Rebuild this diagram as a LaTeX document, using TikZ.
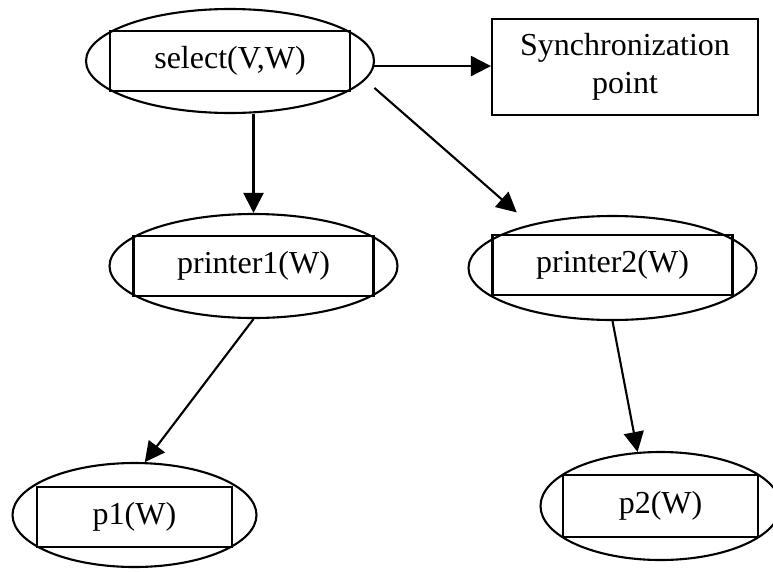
\documentclass[tikz,border=0pt]{standalone}
\usepackage{fontspec}
\setmainfont{Liberation Serif}
\usetikzlibrary{shapes.geometric,arrows.meta}

\tikzset{
  oval/.style={draw, ellipse, line width=2.1pt, inner sep=0pt},
  bigoval/.style={oval, minimum width=288pt, minimum height=104pt},
  box/.style={draw, rectangle, line width=2.1pt, inner sep=0pt, align=center,
    font=\fontsize{32}{38}\selectfont},
  bigbox/.style={box, minimum width=240pt, minimum height=60pt},
  smallbox/.style={box, minimum width=195pt, minimum height=60pt},
  arr/.style={line width=2.1pt, -{Triangle[length=20pt,width=20pt]}}
}

\begin{document}
\begin{tikzpicture}[x=1pt, y=-1pt]
  \useasboundingbox (0,0) rectangle (773,571);
  \clip (0,0) rectangle (773,571);

  % process nodes: an ellipse with its label box inside
  \node[bigoval] (sel) at (230,61) {};
  \node[bigbox] (selbox) at (230,61) {select(V,W)};

  \node[bigoval] (pr1) at (253.5,266) {};
  \node[bigbox] (pr1box) at (253.5,266) {printer1(W)};

  \node[bigoval] (pr2) at (612.5,268) {};
  \node[bigbox] (pr2box) at (612.5,265) {printer2(W)};

  \node[oval, minimum width=244pt, minimum height=104pt] (p1) at (134.5,515) {};
  \node[smallbox] (p1box) at (134.5,517) {p1(W)};

  \node[oval, minimum width=240pt, minimum height=108pt] (p2) at (660.5,506) {};
  \node[smallbox, minimum height=62pt] (p2box) at (660.5,506) {p2(W)};

  % synchronization box
  \node[box, minimum width=266pt, minimum height=96pt] (sync) at (625,67)
    {Synchronization\\point};

  % connectors
  \draw[arr] (sel.-2.5) -- (sel.-2.5 -| sync.west);
  \draw[arr] (pr1.north |- sel.south) -- (pr1.north);
  \draw[arr, shorten <=12pt, shorten >=18pt] (sel.-8.7) -- (pr2.152);
  \draw[arr] (pr1.south) -- (p1.79);
  \draw[arr] (pr2.south) -- (p2.113.5);
\end{tikzpicture}
\end{document}
